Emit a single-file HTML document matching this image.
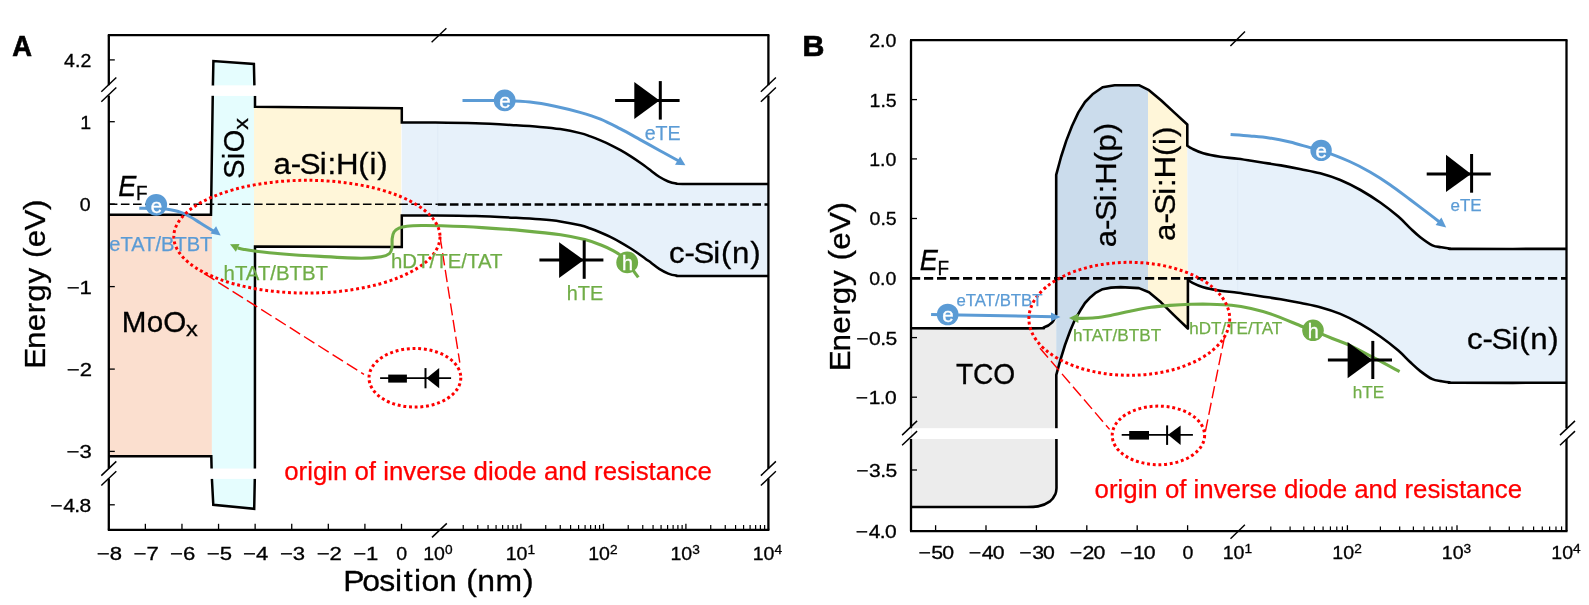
<!DOCTYPE html>
<html lang="en">
<head>
<meta charset="utf-8">
<title>Band diagrams: MoOx/SiOx/a-Si:H(i)/c-Si(n) and TCO/a-Si:H(p)/a-Si:H(i)/c-Si(n)</title>
<style>
html,body{margin:0;padding:0;background:#fff;}
body{width:1589px;height:605px;overflow:hidden;font-family:"Liberation Sans",sans-serif;}
svg{display:block;will-change:transform;}
svg text{font-family:"Liberation Sans",sans-serif;white-space:pre;}
</style>
</head>
<body>
<svg width="1589" height="605" viewBox="0 0 1589 605" font-family='"Liberation Sans", sans-serif'>
<rect width="1589" height="605" fill="#fff"/>
<path d="M108.8 215 L211.9 215 L211.9 456.2 L108.8 456.2 Z" fill="#fbdfcf"/>
<path d="M213.4 61 L253.8 64 L254.4 85.6 L212.9 85.6 Z" fill="#e5fdfe"/>
<path d="M212.7 95.8 L255 95.8 L255 468.7 L211.9 468.7 L211.9 215 Z" fill="#e5fdfe"/>
<path d="M211.8 478.7 L255 478.7 L254.2 508.8 L213.3 504.8 Z" fill="#e5fdfe"/>
<path d="M254 106.8 L401.2 108.4 L401.2 247 L254 246.4 Z" fill="#fff6d9"/>
<path d="M401.8 122.5 C407.38 122.5 423 122.37 435.3 122.5 C447.6 122.63 462.15 122.83 475.6 123.3 C489.05 123.77 505.27 124.7 516 125.3 C526.73 125.9 532.63 126.27 540 126.9 C547.37 127.53 553.48 128.07 560.2 129.1 C566.92 130.13 575.27 131.88 580.3 133.1 C585.33 134.32 587.03 135.18 590.4 136.4 C593.77 137.62 597.18 139 600.5 140.4 C603.82 141.8 606.97 143.17 610.3 144.8 C613.63 146.43 617.08 148.27 620.5 150.2 C623.92 152.13 627.38 154.22 630.8 156.4 C634.22 158.58 637.58 160.88 641 163.3 C644.42 165.72 648.27 168.65 651.3 170.9 C654.33 173.15 656.37 175.03 659.2 176.8 C662.03 178.57 665.43 180.38 668.3 181.5 C671.17 182.62 673.55 183.1 676.4 183.5 C679.25 183.9 670.07 183.83 685.4 183.9 C700.73 183.97 754.57 183.9 768.4 183.9 L768.4 276 C754.57 276 700.73 276.07 685.4 276 C670.07 275.93 679.25 276 676.4 275.6 C673.55 275.2 671.17 274.72 668.3 273.6 C665.43 272.48 662.03 270.67 659.2 268.9 C656.37 267.13 654.33 265.25 651.3 263 C648.27 260.75 644.42 257.82 641 255.4 C637.58 252.98 634.22 250.68 630.8 248.5 C627.38 246.32 623.92 244.23 620.5 242.3 C617.08 240.37 613.63 238.53 610.3 236.9 C606.97 235.27 603.82 233.89 600.5 232.5 C597.18 231.11 593.77 229.75 590.4 228.55 C587.03 227.35 585.33 226.49 580.3 225.3 C575.27 224.11 566.92 222.4 560.2 221.4 C553.48 220.4 547.37 219.9 540 219.3 C532.63 218.7 526.73 218.37 516 217.82 C505.27 217.27 489.05 216.42 475.6 216.02 C462.15 215.62 447.6 215.51 435.3 215.42 C423 215.34 407.38 215.49 401.8 215.5 Z" fill="#e7f1fa"/>
<line x1="437.8" y1="123" x2="437.8" y2="215" stroke="#dfeaf6" stroke-width="1"/>
<path d="M108.8 214.8 L211 214.8 L212.9 85.6" fill="none" stroke="#000" stroke-width="2.5" stroke-linejoin="miter"/>
<path d="M212.9 85.6 L213.4 61 L253.9 64 L254.4 85.6" fill="none" stroke="#000" stroke-width="2.5" stroke-linejoin="miter"/>
<path d="M255 95.8 L255 106.8 L401.8 108.3 L401.8 122.5 C407.38 122.5 423 122.37 435.3 122.5 C447.6 122.63 462.15 122.83 475.6 123.3 C489.05 123.77 505.27 124.7 516 125.3 C526.73 125.9 532.63 126.27 540 126.9 C547.37 127.53 553.48 128.07 560.2 129.1 C566.92 130.13 575.27 131.88 580.3 133.1 C585.33 134.32 587.03 135.18 590.4 136.4 C593.77 137.62 597.18 139 600.5 140.4 C603.82 141.8 606.97 143.17 610.3 144.8 C613.63 146.43 617.08 148.27 620.5 150.2 C623.92 152.13 627.38 154.22 630.8 156.4 C634.22 158.58 637.58 160.88 641 163.3 C644.42 165.72 648.27 168.65 651.3 170.9 C654.33 173.15 656.37 175.03 659.2 176.8 C662.03 178.57 665.43 180.38 668.3 181.5 C671.17 182.62 673.55 183.1 676.4 183.5 C679.25 183.9 670.07 183.83 685.4 183.9 C700.73 183.97 754.57 183.9 768.4 183.9" fill="none" stroke="#000" stroke-width="2.5" stroke-linejoin="miter"/>
<path d="M108.8 456.2 L211.3 456.2 L211.6 468.7" fill="none" stroke="#000" stroke-width="2.5" stroke-linejoin="miter"/>
<path d="M211.9 478.7 L213.3 504.8 L254.2 508.8 L254.8 478.7" fill="none" stroke="#000" stroke-width="2.5" stroke-linejoin="miter"/>
<path d="M254.9 468.7 L255 246.6 L401.8 247 L401.8 215.5 C407.38 215.49 423 215.34 435.3 215.42 C447.6 215.51 462.15 215.62 475.6 216.02 C489.05 216.42 505.27 217.27 516 217.82 C526.73 218.37 532.63 218.7 540 219.3 C547.37 219.9 553.48 220.4 560.2 221.4 C566.92 222.4 575.27 224.11 580.3 225.3 C585.33 226.49 587.03 227.35 590.4 228.55 C593.77 229.75 597.18 231.11 600.5 232.5 C603.82 233.89 606.97 235.27 610.3 236.9 C613.63 238.53 617.08 240.37 620.5 242.3 C623.92 244.23 627.38 246.32 630.8 248.5 C634.22 250.68 637.58 252.98 641 255.4 C644.42 257.82 648.27 260.75 651.3 263 C654.33 265.25 656.37 267.13 659.2 268.9 C662.03 270.67 665.43 272.48 668.3 273.6 C671.17 274.72 673.55 275.2 676.4 275.6 C679.25 276 670.07 275.93 685.4 276 C700.73 276.07 754.57 276 768.4 276" fill="none" stroke="#000" stroke-width="2.5" stroke-linejoin="miter"/>
<rect x="205" y="85.6" width="56" height="10.2" fill="#fff"/>
<rect x="205" y="468.7" width="56" height="10" fill="#fff"/>
<line x1="108.8" y1="204.3" x2="437.8" y2="204.3" stroke="#000" stroke-width="1.6" stroke-dasharray="8.6 3.5"/>
<line x1="437.8" y1="204.5" x2="768.4" y2="204.5" stroke="#000" stroke-width="2.6" stroke-dasharray="8.6 3.5"/>
<path d="M627.2 262.3 C626.18 261.2 623.45 257.65 621.1 255.7 C618.75 253.75 616.45 252.38 613.1 250.6 C609.75 248.82 605.72 246.83 601 245 C596.28 243.17 591.53 241.32 584.8 239.6 C578.07 237.88 571.02 236.2 560.6 234.7 C550.18 233.2 535.42 231.78 522.3 230.6 C509.18 229.42 495.35 228.4 481.9 227.6 C468.45 226.8 451.67 226.15 441.6 225.8 C431.53 225.45 427.27 225.43 421.5 225.5 C415.73 225.57 410.75 225.75 407 226.2 C403.25 226.65 401.17 227.23 399 228.2 C396.83 229.17 395.13 230.28 394 232 C392.87 233.72 392.55 235.83 392.2 238.5 C391.85 241.17 392.37 245.48 391.9 248 C391.43 250.52 391.2 252.15 389.4 253.6 C387.6 255.05 385.83 255.93 381.1 256.7 C376.37 257.47 371.08 258.25 361 258.2 C350.92 258.15 334.05 257.15 320.6 256.4 C307.15 255.65 291.32 254.6 280.3 253.7 C269.28 252.8 260.55 251.72 254.5 251 C248.45 250.28 246.82 249.92 244 249.4 C241.18 248.88 238.67 248.15 237.6 247.9" fill="none" stroke="#70ad47" stroke-width="3.1" />
<path d="M230 244.3 L239.5 244.0 L235.9 251.7 Z" fill="#70ad47"/>
<path d="M627.2 262.3 L638.3 277.3" fill="none" stroke="#70ad47" stroke-width="3.1" />
<circle cx="627.2" cy="262.4" r="10.9" fill="#70ad47"/>
<text x="627.4" y="270.1" font-size="19.8" text-anchor="middle" fill="#fff" stroke="#fff" stroke-width="0.3">h</text>
<path d="M139.3 208.2 C142.08 208.23 151.55 208.25 156 208.4 C160.45 208.55 161.97 208.48 166 209.1 C170.03 209.72 176.17 210.82 180.2 212.1 C184.23 213.38 186.85 214.98 190.2 216.8 C193.55 218.62 196.93 220.93 200.3 223 C203.67 225.07 207.87 227.65 210.4 229.2 C212.93 230.75 214.65 231.78 215.5 232.3" fill="none" stroke="#5b9bd5" stroke-width="3" />
<path d="M220.7 235.4 L210.5 233.5 L216.1 226.2 Z" fill="#5b9bd5"/>
<circle cx="156.2" cy="204.8" r="10.9" fill="#5b9bd5"/>
<text x="156.4" y="212.6" font-size="20.5" text-anchor="middle" fill="#fff" stroke="#fff" stroke-width="0.4">e</text>
<path d="M462.5 100.6 C469.42 100.6 492.75 100.37 504 100.6 C515.25 100.83 521.5 101.07 530 102 C538.5 102.93 546.67 104.47 555 106.2 C563.33 107.93 572.42 110.23 580 112.4 C587.58 114.57 593.83 116.48 600.5 119.2 C607.17 121.92 613.42 125.3 620 128.7 C626.58 132.1 633.25 135.88 640 139.6 C646.75 143.32 654.42 147.63 660.5 151 C666.58 154.37 673.17 157.93 676.5 159.8 C679.83 161.67 679.83 161.8 680.5 162.2" fill="none" stroke="#5b9bd5" stroke-width="3" />
<path d="M685.4 165.3 L675 164.8 L680.1 156.6 Z" fill="#5b9bd5"/>
<circle cx="504.7" cy="100.4" r="10.9" fill="#5b9bd5"/>
<text x="504.9" y="108.2" font-size="20.5" text-anchor="middle" fill="#fff" stroke="#fff" stroke-width="0.4">e</text>
<line x1="615.1" y1="100.5" x2="679.6" y2="100.5" stroke="#000" stroke-width="3"/>
<path d="M634.3 82.1 L659.5 100.5 L634.3 118.9 Z" fill="#000"/>
<line x1="660.3" y1="81.1" x2="660.3" y2="119.6" stroke="#000" stroke-width="3"/>
<line x1="539.4" y1="260" x2="603.4" y2="260" stroke="#000" stroke-width="3"/>
<path d="M559.1 242.2 L583.8 260 L559.1 278 Z" fill="#000"/>
<line x1="584.2" y1="240.4" x2="584.2" y2="278.8" stroke="#000" stroke-width="3"/>
<ellipse cx="306.9" cy="236.7" rx="133.1" ry="56.4" fill="none" stroke="#ff0000" stroke-width="3" stroke-dasharray="2.9 2.8"/>
<ellipse cx="414.9" cy="377.8" rx="45.9" ry="29.3" fill="none" stroke="#ff0000" stroke-width="3" stroke-dasharray="2.9 2.8"/>
<line x1="204" y1="273.3" x2="364" y2="374.4" stroke="#ff0000" stroke-width="1.4" stroke-dasharray="12.3 4.6"/>
<line x1="440" y1="236.5" x2="459.8" y2="362.7" stroke="#ff0000" stroke-width="1.4" stroke-dasharray="12.3 4.6"/>
<line x1="380.1" y1="378.2" x2="451.1" y2="378.2" stroke="#000" stroke-width="1.7"/>
<rect x="388.2" y="374.6" width="18.7" height="8" fill="#000"/>
<line x1="425.5" y1="368.1" x2="425.5" y2="388.3" stroke="#000" stroke-width="2"/>
<path d="M426.5 378.2 L439.2 368.1 L439.2 388.3 Z" fill="#000"/>
<line x1="107.8" y1="35.2" x2="769.4" y2="35.2" stroke="#000" stroke-width="2.3"/>
<line x1="107.8" y1="529.8" x2="769.4" y2="529.8" stroke="#000" stroke-width="2.3"/>
<line x1="108.8" y1="35.2" x2="108.8" y2="85.2" stroke="#000" stroke-width="2.3"/>
<line x1="108.8" y1="95.5" x2="108.8" y2="468.6" stroke="#000" stroke-width="2.3"/>
<line x1="108.8" y1="478.6" x2="108.8" y2="529.8" stroke="#000" stroke-width="2.3"/>
<line x1="768.4" y1="35.2" x2="768.4" y2="85.2" stroke="#000" stroke-width="2.3"/>
<line x1="768.4" y1="95.5" x2="768.4" y2="468.6" stroke="#000" stroke-width="2.3"/>
<line x1="768.4" y1="478.6" x2="768.4" y2="529.8" stroke="#000" stroke-width="2.3"/>
<line x1="101.3" y1="91.7" x2="116.3" y2="77.5" stroke="#000" stroke-width="1.45"/>
<line x1="101.3" y1="101.7" x2="116.3" y2="87.5" stroke="#000" stroke-width="1.45"/>
<line x1="101.3" y1="475.6" x2="116.3" y2="461.4" stroke="#000" stroke-width="1.45"/>
<line x1="101.3" y1="485.5" x2="116.3" y2="471.3" stroke="#000" stroke-width="1.45"/>
<line x1="760.9" y1="91.7" x2="775.9" y2="77.5" stroke="#000" stroke-width="1.45"/>
<line x1="760.9" y1="101.7" x2="775.9" y2="87.5" stroke="#000" stroke-width="1.45"/>
<line x1="760.9" y1="475.6" x2="775.9" y2="461.4" stroke="#000" stroke-width="1.45"/>
<line x1="760.9" y1="485.5" x2="775.9" y2="471.3" stroke="#000" stroke-width="1.45"/>
<line x1="431.6" y1="42.2" x2="446.4" y2="28.2" stroke="#000" stroke-width="1.45"/>
<line x1="432" y1="537.4" x2="446.8" y2="523.4" stroke="#000" stroke-width="1.45"/>
<line x1="108.8" y1="59.9" x2="114.8" y2="59.9" stroke="#000" stroke-width="1.3"/>
<text transform="translate(64.12 66.8) scale(1.0793 1)" x="-0 10.08 15.12" y="0" font-size="18.13" fill="#000" stroke="#000" stroke-width="0.3">4.2</text>
<line x1="108.8" y1="121.7" x2="114.8" y2="121.7" stroke="#000" stroke-width="1.3"/>
<text transform="translate(80.3 128.6) scale(1.0792 1)" x="0" y="0" font-size="18.13" fill="#000" stroke="#000" stroke-width="0.3">1</text>
<line x1="108.8" y1="204.1" x2="114.8" y2="204.1" stroke="#000" stroke-width="1.3"/>
<text transform="translate(79.86 211) scale(1.0792 1)" x="0" y="0" font-size="18.13" fill="#000" stroke="#000" stroke-width="0.3">0</text>
<line x1="108.8" y1="286.6" x2="114.8" y2="286.6" stroke="#000" stroke-width="1.3"/>
<text transform="translate(65.97 293.5) scale(1.2197 1)" x="0.58 11.17" y="0" font-size="18.13" fill="#000" stroke="#000" stroke-width="0.3">−1</text>
<line x1="108.8" y1="369.1" x2="114.8" y2="369.1" stroke="#000" stroke-width="1.3"/>
<text transform="translate(66.1 376) scale(1.2197 1)" x="0.58 11.17" y="0" font-size="18.13" fill="#000" stroke="#000" stroke-width="0.3">−2</text>
<line x1="108.8" y1="451.4" x2="114.8" y2="451.4" stroke="#000" stroke-width="1.3"/>
<text transform="translate(65.76 458.3) scale(1.2197 1)" x="0.58 11.17" y="0" font-size="18.13" fill="#000" stroke="#000" stroke-width="0.3">−3</text>
<line x1="108.8" y1="504.8" x2="114.8" y2="504.8" stroke="#000" stroke-width="1.3"/>
<text transform="translate(49.25 511.7) scale(1.1604 1)" x="0.88 11.99 21.55 26.05" y="0" font-size="18.13" fill="#000" stroke="#000" stroke-width="0.3">−4.8</text>
<text transform="translate(96.15 559.7) scale(1.2197 1)" x="0.58 11.17" y="0" font-size="18.13" fill="#000" stroke="#000" stroke-width="0.3">−8</text>
<line x1="145.37" y1="529.8" x2="145.37" y2="523.8" stroke="#000" stroke-width="1.3"/>
<text transform="translate(132.89 559.7) scale(1.2197 1)" x="0.58 11.17" y="0" font-size="18.13" fill="#000" stroke="#000" stroke-width="0.3">−7</text>
<line x1="181.96" y1="529.8" x2="181.96" y2="523.8" stroke="#000" stroke-width="1.3"/>
<text transform="translate(169.29 559.7) scale(1.2197 1)" x="0.58 11.17" y="0" font-size="18.13" fill="#000" stroke="#000" stroke-width="0.3">−6</text>
<line x1="218.55" y1="529.8" x2="218.55" y2="523.8" stroke="#000" stroke-width="1.3"/>
<text transform="translate(206.09 559.7) scale(1.2197 1)" x="0.58 11.17" y="0" font-size="18.13" fill="#000" stroke="#000" stroke-width="0.3">−5</text>
<line x1="255.14" y1="529.8" x2="255.14" y2="523.8" stroke="#000" stroke-width="1.3"/>
<text transform="translate(242.41 559.7) scale(1.2197 1)" x="0.58 11.17" y="0" font-size="18.13" fill="#000" stroke="#000" stroke-width="0.3">−4</text>
<line x1="291.73" y1="529.8" x2="291.73" y2="523.8" stroke="#000" stroke-width="1.3"/>
<text transform="translate(279.21 559.7) scale(1.2197 1)" x="0.58 11.17" y="0" font-size="18.13" fill="#000" stroke="#000" stroke-width="0.3">−3</text>
<line x1="328.32" y1="529.8" x2="328.32" y2="523.8" stroke="#000" stroke-width="1.3"/>
<text transform="translate(315.97 559.7) scale(1.2197 1)" x="0.58 11.17" y="0" font-size="18.13" fill="#000" stroke="#000" stroke-width="0.3">−2</text>
<line x1="364.91" y1="529.8" x2="364.91" y2="523.8" stroke="#000" stroke-width="1.3"/>
<text transform="translate(352.49 559.7) scale(1.2197 1)" x="0.58 11.17" y="0" font-size="18.13" fill="#000" stroke="#000" stroke-width="0.3">−1</text>
<line x1="401.5" y1="529.8" x2="401.5" y2="523.8" stroke="#000" stroke-width="1.3"/>
<text transform="translate(396.36 559.7) scale(1.0792 1)" x="0" y="0" font-size="18.13" fill="#000" stroke="#000" stroke-width="0.3">0</text>
<line x1="463.23" y1="529.8" x2="463.23" y2="525" stroke="#000" stroke-width="1.2"/>
<line x1="477.76" y1="529.8" x2="477.76" y2="525" stroke="#000" stroke-width="1.2"/>
<line x1="488.07" y1="529.8" x2="488.07" y2="525" stroke="#000" stroke-width="1.2"/>
<line x1="496.07" y1="529.8" x2="496.07" y2="525" stroke="#000" stroke-width="1.2"/>
<line x1="502.6" y1="529.8" x2="502.6" y2="525" stroke="#000" stroke-width="1.2"/>
<line x1="508.12" y1="529.8" x2="508.12" y2="525" stroke="#000" stroke-width="1.2"/>
<line x1="512.9" y1="529.8" x2="512.9" y2="525" stroke="#000" stroke-width="1.2"/>
<line x1="517.13" y1="529.8" x2="517.13" y2="525" stroke="#000" stroke-width="1.2"/>
<line x1="520.9" y1="529.8" x2="520.9" y2="523.8" stroke="#000" stroke-width="1.3"/>
<line x1="545.73" y1="529.8" x2="545.73" y2="525" stroke="#000" stroke-width="1.2"/>
<line x1="560.26" y1="529.8" x2="560.26" y2="525" stroke="#000" stroke-width="1.2"/>
<line x1="570.57" y1="529.8" x2="570.57" y2="525" stroke="#000" stroke-width="1.2"/>
<line x1="578.57" y1="529.8" x2="578.57" y2="525" stroke="#000" stroke-width="1.2"/>
<line x1="585.1" y1="529.8" x2="585.1" y2="525" stroke="#000" stroke-width="1.2"/>
<line x1="590.62" y1="529.8" x2="590.62" y2="525" stroke="#000" stroke-width="1.2"/>
<line x1="595.4" y1="529.8" x2="595.4" y2="525" stroke="#000" stroke-width="1.2"/>
<line x1="599.63" y1="529.8" x2="599.63" y2="525" stroke="#000" stroke-width="1.2"/>
<line x1="603.4" y1="529.8" x2="603.4" y2="523.8" stroke="#000" stroke-width="1.3"/>
<line x1="628.23" y1="529.8" x2="628.23" y2="525" stroke="#000" stroke-width="1.2"/>
<line x1="642.76" y1="529.8" x2="642.76" y2="525" stroke="#000" stroke-width="1.2"/>
<line x1="653.07" y1="529.8" x2="653.07" y2="525" stroke="#000" stroke-width="1.2"/>
<line x1="661.07" y1="529.8" x2="661.07" y2="525" stroke="#000" stroke-width="1.2"/>
<line x1="667.6" y1="529.8" x2="667.6" y2="525" stroke="#000" stroke-width="1.2"/>
<line x1="673.12" y1="529.8" x2="673.12" y2="525" stroke="#000" stroke-width="1.2"/>
<line x1="677.9" y1="529.8" x2="677.9" y2="525" stroke="#000" stroke-width="1.2"/>
<line x1="682.13" y1="529.8" x2="682.13" y2="525" stroke="#000" stroke-width="1.2"/>
<line x1="685.9" y1="529.8" x2="685.9" y2="523.8" stroke="#000" stroke-width="1.3"/>
<line x1="710.73" y1="529.8" x2="710.73" y2="525" stroke="#000" stroke-width="1.2"/>
<line x1="725.26" y1="529.8" x2="725.26" y2="525" stroke="#000" stroke-width="1.2"/>
<line x1="735.57" y1="529.8" x2="735.57" y2="525" stroke="#000" stroke-width="1.2"/>
<line x1="743.57" y1="529.8" x2="743.57" y2="525" stroke="#000" stroke-width="1.2"/>
<line x1="750.1" y1="529.8" x2="750.1" y2="525" stroke="#000" stroke-width="1.2"/>
<line x1="755.62" y1="529.8" x2="755.62" y2="525" stroke="#000" stroke-width="1.2"/>
<line x1="760.4" y1="529.8" x2="760.4" y2="525" stroke="#000" stroke-width="1.2"/>
<line x1="764.63" y1="529.8" x2="764.63" y2="525" stroke="#000" stroke-width="1.2"/>
<text transform="translate(423.17 559.7) scale(1.0792 1)" x="0 10.08" y="0" font-size="18.13" fill="#000" stroke="#000" stroke-width="0.3">10</text>
<text transform="translate(444.93 553.5) scale(1.0792 1)" x="0" y="0" font-size="12.69" fill="#000" stroke="#000" stroke-width="0.3">0</text>
<text transform="translate(505.73 559.7) scale(1.0792 1)" x="0 10.08" y="0" font-size="18.13" fill="#000" stroke="#000" stroke-width="0.3">10</text>
<text transform="translate(527.48 553.5) scale(1.0792 1)" x="0" y="0" font-size="12.69" fill="#000" stroke="#000" stroke-width="0.3">1</text>
<text transform="translate(588.17 559.7) scale(1.0792 1)" x="0 10.08" y="0" font-size="18.13" fill="#000" stroke="#000" stroke-width="0.3">10</text>
<text transform="translate(609.93 553.5) scale(1.0792 1)" x="0" y="0" font-size="12.69" fill="#000" stroke="#000" stroke-width="0.3">2</text>
<text transform="translate(670.45 559.7) scale(1.0792 1)" x="0 10.08" y="0" font-size="18.13" fill="#000" stroke="#000" stroke-width="0.3">10</text>
<text transform="translate(692.21 553.5) scale(1.0792 1)" x="0" y="0" font-size="12.69" fill="#000" stroke="#000" stroke-width="0.3">3</text>
<text transform="translate(752.71 559.7) scale(1.0792 1)" x="0 10.08" y="0" font-size="18.13" fill="#000" stroke="#000" stroke-width="0.3">10</text>
<text transform="translate(774.47 553.5) scale(1.0792 1)" x="0" y="0" font-size="12.69" fill="#000" stroke="#000" stroke-width="0.3">4</text>
<text transform="translate(345.41 591) scale(1.0618 1)" x="-1.98 15.94 31.93 46.8 54.92 64.72 71.59 88.25 105.16 113.8 124.13 141.47 167.24" y="0" font-size="30.1" fill="#000" stroke="#000" stroke-width="0.3">Position (nm)</text>
<g transform="translate(44.8 367.18) rotate(-90)"><text transform="translate(0 0) scale(1.0442 1)" x="-1.45 17.43 34.42 51.73 62.6 80.12 95.84 104.63 114.95 130.95 150.58" y="0" font-size="30.1" fill="#000" stroke="#000" stroke-width="0.3">Energy (eV)</text></g>
<text transform="translate(118.21 196.2) scale(0.9000 1)" x="-0.07" y="0" font-size="30.1" fill="#000" stroke="#000" stroke-width="0.3" font-style="italic">E</text>
<text transform="translate(136.16 200.3) scale(0.9000 1)" x="-0.08" y="0" font-size="21.07" fill="#000" stroke="#000" stroke-width="0.3">F</text>
<g transform="translate(243.6 178.07) rotate(-90)">
<text transform="translate(0 0) scale(0.9619 1)" x="-0.67 19.5 26.86" y="0" font-size="30.1" fill="#000" stroke="#000" stroke-width="0.3">SiO</text>
<text transform="translate(48.27 4.1) scale(1.1166 1)" x="0" y="0" font-size="21.07" fill="#000" stroke="#000" stroke-width="0.3">x</text>
</g>
<text transform="translate(121.81 332.2) scale(0.9846 1)" x="-0.1 25.34 42.18" y="0" font-size="30.1" fill="#000" stroke="#000" stroke-width="0.3">MoO</text>
<text transform="translate(186.05 336.3) scale(1.1166 1)" x="0" y="0" font-size="21.07" fill="#000" stroke="#000" stroke-width="0.3">x</text>
<text transform="translate(273.49 174) scale(1.0377 1)" x="0.01 16.7 25.29 44.47 52.05 60.26 81.75 92.55 100.03" y="0" font-size="30.1" fill="#000" stroke="#000" stroke-width="0.3">a-Si:H(i)</text>
<text transform="translate(668.93 262.7) scale(1.0373 1)" x="0 14.98 23.58 42.77 50.25 60.91 78.28" y="0" font-size="30.1" fill="#000" stroke="#000" stroke-width="0.3">c-Si(n)</text>
<text x="12.24" y="56" font-size="30.2" textLength="19.72" lengthAdjust="spacingAndGlyphs" fill="#000" stroke="#000" stroke-width="0.7" font-weight="bold">A</text>
<text x="109.27" y="250.9" font-size="19.5" textLength="103.08" lengthAdjust="spacingAndGlyphs" fill="#5b9bd5" stroke="#5b9bd5" stroke-width="0.25">eTAT/BTBT</text>
<text x="223.63" y="279.8" font-size="19.5" textLength="104.43" lengthAdjust="spacingAndGlyphs" fill="#70ad47" stroke="#70ad47" stroke-width="0.25">hTAT/BTBT</text>
<text x="391.02" y="268.2" font-size="19.5" textLength="111.43" lengthAdjust="spacingAndGlyphs" fill="#70ad47" stroke="#70ad47" stroke-width="0.25">hDT/TE/TAT</text>
<text x="644.67" y="140.1" font-size="19.5" textLength="35.98" lengthAdjust="spacingAndGlyphs" fill="#5b9bd5" stroke="#5b9bd5" stroke-width="0.25">eTE</text>
<text x="566.83" y="300.4" font-size="19.5" textLength="36.32" lengthAdjust="spacingAndGlyphs" fill="#70ad47" stroke="#70ad47" stroke-width="0.25">hTE</text>
<text x="284.22" y="479.7" font-size="25.8" textLength="427.53" lengthAdjust="spacingAndGlyphs" fill="#ff0000" stroke="#ff0000" stroke-width="0.25">origin of inverse diode and resistance</text>
<path d="M911 328.2 L1030 328.4 L1044.1 327.3 L1052.2 322.4 L1056.2 314.4 L1056.2 488 L1056.5 488 L1055.4 494 L1050.1 501.3 L1038 506.4 L1011.8 507 L911 507 Z" fill="#ececec"/>
<path d="M1056.2 174.9 L1061 157 L1066.3 140.6 L1072 126 L1078.4 112.4 L1085 102 L1092.5 94.3 L1102.6 87.2 L1114.7 85.2 L1138.9 85.2 L1148 89.7 L1148 291.79 L1138.9 288.1 L1120.7 287.1 L1111 287.6 L1102.6 289.2 L1096 292.6 L1090.5 297.2 L1085 303 L1080.4 310.3 L1075 319.5 L1070.3 330.5 L1065 345 L1060.2 360.7 L1056.2 374.8 Z" fill="#cbdcec"/>
<path d="M1148 89.7 L1149 90.2 L1161 100.3 L1175.2 113.4 L1187.3 124.5 L1187.9 328.5 L1175.2 316.4 L1161 302.3 L1149 292.2 L1148 291.79 Z" fill="#fff6d9"/>
<path d="M1187.3 145.7 C1188.1 146.2 1189.45 147.43 1192.1 148.7 C1194.75 149.97 1198.5 151.95 1203.2 153.3 C1207.9 154.65 1214.5 155.88 1220.3 156.8 C1226.1 157.72 1231.28 157.88 1238 158.8 C1244.72 159.72 1253.47 161.2 1260.6 162.3 C1267.73 163.4 1274.07 164.25 1280.8 165.4 C1287.53 166.55 1294.43 167.88 1301 169.2 C1307.57 170.52 1313.65 171.5 1320.2 173.3 C1326.75 175.1 1333.58 177.22 1340.3 180 C1347.02 182.78 1353.78 186.2 1360.5 190 C1367.22 193.8 1374.3 198.37 1380.6 202.8 C1386.9 207.23 1393.38 212.38 1398.3 216.6 C1403.22 220.82 1406.43 224.67 1410.1 228.1 C1413.77 231.53 1416.58 234.33 1420.3 237.2 C1424.02 240.07 1428.95 243.63 1432.4 245.3 C1435.85 246.97 1438.13 246.67 1441 247.2 C1443.87 247.73 1446.43 248.22 1449.6 248.5 C1452.77 248.78 1440.52 248.83 1460 248.9 C1479.48 248.97 1548.75 248.9 1566.5 248.9 L1566.5 382.8 C1548.75 382.8 1479.48 382.87 1460 382.8 C1440.52 382.73 1452.77 382.68 1449.6 382.4 C1446.43 382.12 1443.87 381.63 1441 381.1 C1438.13 380.57 1435.85 380.87 1432.4 379.2 C1428.95 377.53 1424.02 373.97 1420.3 371.1 C1416.58 368.23 1413.77 365.43 1410.1 362 C1406.43 358.57 1403.22 354.72 1398.3 350.5 C1393.38 346.28 1386.9 341.13 1380.6 336.7 C1374.3 332.27 1367.22 327.7 1360.5 323.9 C1353.78 320.1 1347.02 316.68 1340.3 313.9 C1333.58 311.12 1326.75 309 1320.2 307.2 C1313.65 305.4 1307.57 304.42 1301 303.1 C1294.43 301.78 1287.53 300.45 1280.8 299.3 C1274.07 298.15 1267.73 297.3 1260.6 296.2 C1253.47 295.1 1244.72 293.62 1238 292.7 C1231.28 291.78 1226.1 291.62 1220.3 290.7 C1214.5 289.78 1207.9 288.55 1203.2 287.2 C1198.5 285.85 1194.65 283.87 1192.1 282.6 C1189.55 281.33 1188.6 280.1 1187.9 279.6 Z" fill="#e7f1fa"/>
<line x1="1237.7" y1="160" x2="1237.7" y2="293" stroke="#dfeaf6" stroke-width="1"/>
<path d="M911 328.2 C930.83 328.23 1007.82 328.55 1030 328.4 C1052.18 328.25 1040.4 328.3 1044.1 327.3 C1047.8 326.3 1050.18 324.55 1052.2 322.4 C1054.22 320.25 1055.53 315.73 1056.2 314.4 L1056.2 174.9 L1061 157 L1066.3 140.6 L1072 126 L1078.4 112.4 L1085 102 L1092.5 94.3 L1102.6 87.2 L1114.7 85.2 L1138.9 85.2 L1149 90.2 L1161 100.3 L1175.2 113.4 L1187.3 124.5 L1187.3 145.7 C1188.1 146.2 1189.45 147.43 1192.1 148.7 C1194.75 149.97 1198.5 151.95 1203.2 153.3 C1207.9 154.65 1214.5 155.88 1220.3 156.8 C1226.1 157.72 1231.28 157.88 1238 158.8 C1244.72 159.72 1253.47 161.2 1260.6 162.3 C1267.73 163.4 1274.07 164.25 1280.8 165.4 C1287.53 166.55 1294.43 167.88 1301 169.2 C1307.57 170.52 1313.65 171.5 1320.2 173.3 C1326.75 175.1 1333.58 177.22 1340.3 180 C1347.02 182.78 1353.78 186.2 1360.5 190 C1367.22 193.8 1374.3 198.37 1380.6 202.8 C1386.9 207.23 1393.38 212.38 1398.3 216.6 C1403.22 220.82 1406.43 224.67 1410.1 228.1 C1413.77 231.53 1416.58 234.33 1420.3 237.2 C1424.02 240.07 1428.95 243.63 1432.4 245.3 C1435.85 246.97 1438.13 246.67 1441 247.2 C1443.87 247.73 1446.43 248.22 1449.6 248.5 C1452.77 248.78 1440.52 248.83 1460 248.9 C1479.48 248.97 1548.75 248.9 1566.5 248.9" fill="none" stroke="#000" stroke-width="2.6" stroke-linejoin="round"/>
<path d="M911 507 C927.8 507 990.63 507.1 1011.8 507 C1032.97 506.9 1031.62 507.35 1038 506.4 C1044.38 505.45 1047.2 503.37 1050.1 501.3 C1053 499.23 1054.33 496.22 1055.4 494 C1056.47 491.78 1056.32 489 1056.5 488 L1056.3 374.8 L1060.2 360.7 L1065 345 L1070.3 330.5 L1075 319.5 L1080.4 310.3 L1085 303 L1090.5 297.2 L1096 292.6 L1102.6 289.2 L1111 287.6 L1120.7 287.1 L1138.9 288.1 L1149 292.2 L1161 302.3 L1175.2 316.4 L1187.9 328.5 L1187.9 279.6 C1188.6 280.1 1189.55 281.33 1192.1 282.6 C1194.65 283.87 1198.5 285.85 1203.2 287.2 C1207.9 288.55 1214.5 289.78 1220.3 290.7 C1226.1 291.62 1231.28 291.78 1238 292.7 C1244.72 293.62 1253.47 295.1 1260.6 296.2 C1267.73 297.3 1274.07 298.15 1280.8 299.3 C1287.53 300.45 1294.43 301.78 1301 303.1 C1307.57 304.42 1313.65 305.4 1320.2 307.2 C1326.75 309 1333.58 311.12 1340.3 313.9 C1347.02 316.68 1353.78 320.1 1360.5 323.9 C1367.22 327.7 1374.3 332.27 1380.6 336.7 C1386.9 341.13 1393.38 346.28 1398.3 350.5 C1403.22 354.72 1406.43 358.57 1410.1 362 C1413.77 365.43 1416.58 368.23 1420.3 371.1 C1424.02 373.97 1428.95 377.53 1432.4 379.2 C1435.85 380.87 1438.13 380.57 1441 381.1 C1443.87 381.63 1446.43 382.12 1449.6 382.4 C1452.77 382.68 1440.52 382.73 1460 382.8 C1479.48 382.87 1548.75 382.8 1566.5 382.8" fill="none" stroke="#000" stroke-width="2.6" stroke-linejoin="round"/>
<rect x="912" y="428.2" width="149" height="10.8" fill="#fff"/>
<line x1="911" y1="278.4" x2="1566.5" y2="278.4" stroke="#000" stroke-width="2.6" stroke-dasharray="9.2 3.8"/>
<path d="M1399.6 371.6 C1395.5 369.4 1383.33 362.77 1375 358.4 C1366.67 354.03 1356.7 348.72 1349.6 345.4 C1342.5 342.08 1338.52 340.98 1332.4 338.5 C1326.28 336.02 1317.93 332.5 1312.9 330.5 C1307.87 328.5 1309.03 329.18 1302.2 326.5 C1295.37 323.82 1280.43 317.38 1271.9 314.4 C1263.37 311.42 1257.72 310.12 1251 308.6 C1244.28 307.08 1238.43 306.03 1231.6 305.3 C1224.77 304.57 1216.72 304.37 1210 304.2 C1203.28 304.03 1197.97 304.1 1191.3 304.3 C1184.63 304.5 1176.72 304.9 1170 305.4 C1163.28 305.9 1157.67 306.33 1151 307.3 C1144.33 308.27 1136.73 309.85 1130 311.2 C1123.27 312.55 1116.43 314.3 1110.6 315.4 C1104.77 316.5 1100.03 317.3 1095 317.8 C1089.97 318.3 1084.07 318.33 1080.4 318.4 C1076.73 318.47 1074.23 318.23 1073 318.2" fill="none" stroke="#70ad47" stroke-width="3.1" />
<path d="M1069 318 L1078.4 313.4 L1078.4 323 Z" fill="#70ad47"/>
<circle cx="1313" cy="330.3" r="10.8" fill="#70ad47"/>
<text x="1313.2" y="338.1" font-size="19.8" text-anchor="middle" fill="#fff" stroke="#fff" stroke-width="0.3">h</text>
<path d="M931.1 314.5 L1054 316.7" fill="none" stroke="#5b9bd5" stroke-width="3" />
<path d="M1060.4 316.9 L1051 312.4 L1051 321.2 Z" fill="#5b9bd5"/>
<circle cx="947.7" cy="314.5" r="10.8" fill="#5b9bd5"/>
<text x="947.9" y="322.3" font-size="20.5" text-anchor="middle" fill="#fff" stroke="#fff" stroke-width="0.4">e</text>
<path d="M1230.6 134.6 C1233.83 134.83 1243.6 135.45 1250 136 C1256.4 136.55 1262.33 136.9 1269 137.9 C1275.67 138.9 1283.28 140.42 1290 142 C1296.72 143.58 1304.13 146 1309.3 147.4 C1314.47 148.8 1314.28 148.05 1321 150.4 C1327.72 152.75 1341.43 157.9 1349.6 161.5 C1357.77 165.1 1363.27 168.13 1370 172 C1376.73 175.87 1383.33 180.12 1390 184.7 C1396.67 189.28 1403.28 194.47 1410 199.5 C1416.72 204.53 1425.13 210.95 1430.3 214.9 C1435.47 218.85 1439.22 221.82 1441 223.2" fill="none" stroke="#5b9bd5" stroke-width="3" />
<path d="M1446.2 227.4 L1435.6 225 L1441.4 217.4 Z" fill="#5b9bd5"/>
<circle cx="1321.1" cy="150.4" r="10.7" fill="#5b9bd5"/>
<text x="1321.3" y="158.2" font-size="20.5" text-anchor="middle" fill="#fff" stroke="#fff" stroke-width="0.4">e</text>
<line x1="1426.7" y1="174" x2="1490.8" y2="174" stroke="#000" stroke-width="3"/>
<path d="M1446 154.8 L1471 174 L1446 192.1 Z" fill="#000"/>
<line x1="1471.6" y1="154" x2="1471.6" y2="192.7" stroke="#000" stroke-width="3"/>
<line x1="1327.9" y1="360.1" x2="1392" y2="360.1" stroke="#000" stroke-width="3"/>
<path d="M1347.6 341.9 L1372.4 360.1 L1347.6 378.2 Z" fill="#000"/>
<line x1="1372.8" y1="340.9" x2="1372.8" y2="379" stroke="#000" stroke-width="3"/>
<ellipse cx="1129.3" cy="318.8" rx="100.4" ry="56.5" fill="none" stroke="#ff0000" stroke-width="3" stroke-dasharray="2.9 2.8"/>
<ellipse cx="1158.4" cy="435.4" rx="46.2" ry="29.3" fill="none" stroke="#ff0000" stroke-width="3" stroke-dasharray="2.9 2.8"/>
<line x1="1040" y1="348.2" x2="1109.6" y2="429.4" stroke="#ff0000" stroke-width="1.4" stroke-dasharray="12.3 4.6"/>
<line x1="1224.6" y1="336.5" x2="1205.4" y2="431.4" stroke="#ff0000" stroke-width="1.4" stroke-dasharray="12.3 4.6"/>
<line x1="1121.7" y1="434.8" x2="1192.9" y2="434.8" stroke="#000" stroke-width="1.7"/>
<rect x="1129.2" y="431" width="19.8" height="8.6" fill="#000"/>
<line x1="1167.1" y1="425.4" x2="1167.1" y2="444.9" stroke="#000" stroke-width="2"/>
<path d="M1168.1 434.8 L1180.6 425.4 L1180.6 444.9 Z" fill="#000"/>
<line x1="910" y1="40.2" x2="1567.5" y2="40.2" stroke="#000" stroke-width="2.3"/>
<line x1="910" y1="531.2" x2="1567.5" y2="531.2" stroke="#000" stroke-width="2.3"/>
<line x1="911" y1="40.2" x2="911" y2="428.2" stroke="#000" stroke-width="2.3"/>
<line x1="911" y1="439" x2="911" y2="531.2" stroke="#000" stroke-width="2.3"/>
<line x1="1566.5" y1="40.2" x2="1566.5" y2="428.2" stroke="#000" stroke-width="2.3"/>
<line x1="1566.5" y1="439" x2="1566.5" y2="531.2" stroke="#000" stroke-width="2.3"/>
<line x1="902.1" y1="435.1" x2="917.1" y2="420.9" stroke="#000" stroke-width="1.45"/>
<line x1="902.1" y1="445.3" x2="917.1" y2="431.1" stroke="#000" stroke-width="1.45"/>
<line x1="1560" y1="435.1" x2="1575" y2="420.9" stroke="#000" stroke-width="1.45"/>
<line x1="1560" y1="445.3" x2="1575" y2="431.1" stroke="#000" stroke-width="1.45"/>
<line x1="1230.4" y1="46" x2="1245" y2="31.4" stroke="#000" stroke-width="1.45"/>
<line x1="1230.5" y1="538.8" x2="1244.9" y2="524.8" stroke="#000" stroke-width="1.45"/>
<text transform="translate(869.14 47.1) scale(1.0793 1)" x="-0 10.08 15.12" y="0" font-size="18.13" fill="#000" stroke="#000" stroke-width="0.3">2.0</text>
<line x1="911" y1="99.6" x2="917" y2="99.6" stroke="#000" stroke-width="1.3"/>
<text transform="translate(869.5 106.5) scale(1.0793 1)" x="-0 10.08 15.12" y="0" font-size="18.13" fill="#000" stroke="#000" stroke-width="0.3">1.5</text>
<line x1="911" y1="158.9" x2="917" y2="158.9" stroke="#000" stroke-width="1.3"/>
<text transform="translate(869.14 165.8) scale(1.0793 1)" x="-0 10.08 15.12" y="0" font-size="18.13" fill="#000" stroke="#000" stroke-width="0.3">1.0</text>
<line x1="911" y1="218.5" x2="917" y2="218.5" stroke="#000" stroke-width="1.3"/>
<text transform="translate(869.5 225.4) scale(1.0793 1)" x="-0 10.08 15.12" y="0" font-size="18.13" fill="#000" stroke="#000" stroke-width="0.3">0.5</text>
<line x1="911" y1="278.2" x2="917" y2="278.2" stroke="#000" stroke-width="1.3"/>
<text transform="translate(869.14 285.1) scale(1.0793 1)" x="-0 10.08 15.12" y="0" font-size="18.13" fill="#000" stroke="#000" stroke-width="0.3">0.0</text>
<line x1="911" y1="337.6" x2="917" y2="337.6" stroke="#000" stroke-width="1.3"/>
<text transform="translate(855.17 344.5) scale(1.1604 1)" x="0.88 11.99 21.55 26.05" y="0" font-size="18.13" fill="#000" stroke="#000" stroke-width="0.3">−0.5</text>
<line x1="911" y1="397.2" x2="917" y2="397.2" stroke="#000" stroke-width="1.3"/>
<text transform="translate(854.81 404.1) scale(1.1604 1)" x="0.88 11.99 21.55 26.05" y="0" font-size="18.13" fill="#000" stroke="#000" stroke-width="0.3">−1.0</text>
<line x1="911" y1="470" x2="917" y2="470" stroke="#000" stroke-width="1.3"/>
<text transform="translate(855.17 476.9) scale(1.1604 1)" x="0.88 11.99 21.55 26.05" y="0" font-size="18.13" fill="#000" stroke="#000" stroke-width="0.3">−3.5</text>
<text transform="translate(854.81 537.9) scale(1.1604 1)" x="0.88 11.99 21.55 26.05" y="0" font-size="18.13" fill="#000" stroke="#000" stroke-width="0.3">−4.0</text>
<line x1="935.6" y1="531.2" x2="935.6" y2="525.2" stroke="#000" stroke-width="1.3"/>
<text transform="translate(917.52 559) scale(1.1737 1)" x="0.81 11.8 21.07" y="0" font-size="18.13" fill="#000" stroke="#000" stroke-width="0.3">−50</text>
<line x1="986" y1="531.2" x2="986" y2="525.2" stroke="#000" stroke-width="1.3"/>
<text transform="translate(967.92 559) scale(1.1737 1)" x="0.81 11.8 21.07" y="0" font-size="18.13" fill="#000" stroke="#000" stroke-width="0.3">−40</text>
<line x1="1036.4" y1="531.2" x2="1036.4" y2="525.2" stroke="#000" stroke-width="1.3"/>
<text transform="translate(1018.32 559) scale(1.1737 1)" x="0.81 11.8 21.07" y="0" font-size="18.13" fill="#000" stroke="#000" stroke-width="0.3">−30</text>
<line x1="1086.8" y1="531.2" x2="1086.8" y2="525.2" stroke="#000" stroke-width="1.3"/>
<text transform="translate(1068.72 559) scale(1.1737 1)" x="0.81 11.8 21.07" y="0" font-size="18.13" fill="#000" stroke="#000" stroke-width="0.3">−20</text>
<line x1="1137.2" y1="531.2" x2="1137.2" y2="525.2" stroke="#000" stroke-width="1.3"/>
<text transform="translate(1119.12 559) scale(1.1737 1)" x="0.81 11.8 21.07" y="0" font-size="18.13" fill="#000" stroke="#000" stroke-width="0.3">−10</text>
<line x1="1187.6" y1="531.2" x2="1187.6" y2="525.2" stroke="#000" stroke-width="1.3"/>
<text transform="translate(1182.46 559) scale(1.0792 1)" x="0" y="0" font-size="18.13" fill="#000" stroke="#000" stroke-width="0.3">0</text>
<line x1="1270.79" y1="531.2" x2="1270.79" y2="526.4" stroke="#000" stroke-width="1.2"/>
<line x1="1290.09" y1="531.2" x2="1290.09" y2="526.4" stroke="#000" stroke-width="1.2"/>
<line x1="1303.79" y1="531.2" x2="1303.79" y2="526.4" stroke="#000" stroke-width="1.2"/>
<line x1="1314.41" y1="531.2" x2="1314.41" y2="526.4" stroke="#000" stroke-width="1.2"/>
<line x1="1323.09" y1="531.2" x2="1323.09" y2="526.4" stroke="#000" stroke-width="1.2"/>
<line x1="1330.42" y1="531.2" x2="1330.42" y2="526.4" stroke="#000" stroke-width="1.2"/>
<line x1="1336.78" y1="531.2" x2="1336.78" y2="526.4" stroke="#000" stroke-width="1.2"/>
<line x1="1342.38" y1="531.2" x2="1342.38" y2="526.4" stroke="#000" stroke-width="1.2"/>
<line x1="1347.4" y1="531.2" x2="1347.4" y2="525.2" stroke="#000" stroke-width="1.3"/>
<line x1="1380.39" y1="531.2" x2="1380.39" y2="526.4" stroke="#000" stroke-width="1.2"/>
<line x1="1399.69" y1="531.2" x2="1399.69" y2="526.4" stroke="#000" stroke-width="1.2"/>
<line x1="1413.39" y1="531.2" x2="1413.39" y2="526.4" stroke="#000" stroke-width="1.2"/>
<line x1="1424.01" y1="531.2" x2="1424.01" y2="526.4" stroke="#000" stroke-width="1.2"/>
<line x1="1432.69" y1="531.2" x2="1432.69" y2="526.4" stroke="#000" stroke-width="1.2"/>
<line x1="1440.02" y1="531.2" x2="1440.02" y2="526.4" stroke="#000" stroke-width="1.2"/>
<line x1="1446.38" y1="531.2" x2="1446.38" y2="526.4" stroke="#000" stroke-width="1.2"/>
<line x1="1451.98" y1="531.2" x2="1451.98" y2="526.4" stroke="#000" stroke-width="1.2"/>
<line x1="1457" y1="531.2" x2="1457" y2="525.2" stroke="#000" stroke-width="1.3"/>
<line x1="1489.99" y1="531.2" x2="1489.99" y2="526.4" stroke="#000" stroke-width="1.2"/>
<line x1="1509.29" y1="531.2" x2="1509.29" y2="526.4" stroke="#000" stroke-width="1.2"/>
<line x1="1522.99" y1="531.2" x2="1522.99" y2="526.4" stroke="#000" stroke-width="1.2"/>
<line x1="1533.61" y1="531.2" x2="1533.61" y2="526.4" stroke="#000" stroke-width="1.2"/>
<line x1="1542.29" y1="531.2" x2="1542.29" y2="526.4" stroke="#000" stroke-width="1.2"/>
<line x1="1549.62" y1="531.2" x2="1549.62" y2="526.4" stroke="#000" stroke-width="1.2"/>
<line x1="1555.98" y1="531.2" x2="1555.98" y2="526.4" stroke="#000" stroke-width="1.2"/>
<line x1="1561.58" y1="531.2" x2="1561.58" y2="526.4" stroke="#000" stroke-width="1.2"/>
<text transform="translate(1222.73 559) scale(1.0792 1)" x="0 10.08" y="0" font-size="18.13" fill="#000" stroke="#000" stroke-width="0.3">10</text>
<text transform="translate(1244.48 552.8) scale(1.0792 1)" x="0" y="0" font-size="12.69" fill="#000" stroke="#000" stroke-width="0.3">1</text>
<text transform="translate(1332.37 559) scale(1.0792 1)" x="0 10.08" y="0" font-size="18.13" fill="#000" stroke="#000" stroke-width="0.3">10</text>
<text transform="translate(1354.13 552.8) scale(1.0792 1)" x="0" y="0" font-size="12.69" fill="#000" stroke="#000" stroke-width="0.3">2</text>
<text transform="translate(1441.85 559) scale(1.0792 1)" x="0 10.08" y="0" font-size="18.13" fill="#000" stroke="#000" stroke-width="0.3">10</text>
<text transform="translate(1463.61 552.8) scale(1.0792 1)" x="0" y="0" font-size="12.69" fill="#000" stroke="#000" stroke-width="0.3">3</text>
<text transform="translate(1551.31 559) scale(1.0792 1)" x="0 10.08" y="0" font-size="18.13" fill="#000" stroke="#000" stroke-width="0.3">10</text>
<text transform="translate(1573.07 552.8) scale(1.0792 1)" x="0" y="0" font-size="12.69" fill="#000" stroke="#000" stroke-width="0.3">4</text>
<g transform="translate(849.6 369.68) rotate(-90)"><text transform="translate(0 0) scale(1.0442 1)" x="-1.45 17.43 34.42 51.73 62.6 80.12 95.84 104.63 114.95 130.95 150.58" y="0" font-size="30.1" fill="#000" stroke="#000" stroke-width="0.3">Energy (eV)</text></g>
<text transform="translate(919.71 270.4) scale(0.9000 1)" x="-0.07" y="0" font-size="30.1" fill="#000" stroke="#000" stroke-width="0.3" font-style="italic">E</text>
<text transform="translate(937.66 274.5) scale(0.9000 1)" x="-0.08" y="0" font-size="21.07" fill="#000" stroke="#000" stroke-width="0.3">F</text>
<text transform="translate(955.88 384.2) scale(0.9368 1)" x="0.06 18.23 39.91" y="0" font-size="30.1" fill="#000" stroke="#000" stroke-width="0.3">TCO</text>
<g transform="translate(1116.3 247.31) rotate(-90)"><text transform="translate(0 0) scale(1.0353 1)" x="0.03 16.75 25.38 44.59 52.18 60.43 81.95 92.65 110.07" y="0" font-size="30.1" fill="#000" stroke="#000" stroke-width="0.3">a-Si:H(p)</text></g>
<g transform="translate(1174.8 240.91) rotate(-90)"><text transform="translate(0 0) scale(1.0377 1)" x="0.01 16.7 25.29 44.47 52.05 60.26 81.75 92.55 100.03" y="0" font-size="30.1" fill="#000" stroke="#000" stroke-width="0.3">a-Si:H(i)</text></g>
<text transform="translate(1467.03 349.4) scale(1.0373 1)" x="0 14.98 23.58 42.77 50.25 60.91 78.28" y="0" font-size="30.1" fill="#000" stroke="#000" stroke-width="0.3">c-Si(n)</text>
<text x="802.4" y="56" font-size="30.2" textLength="21.93" lengthAdjust="spacingAndGlyphs" fill="#000" stroke="#000" stroke-width="0.7" font-weight="bold">B</text>
<text x="956.41" y="306" font-size="16.5" textLength="86.17" lengthAdjust="spacingAndGlyphs" fill="#5b9bd5" stroke="#5b9bd5" stroke-width="0.25">eTAT/BTBT</text>
<text x="1073.04" y="340.6" font-size="16.5" textLength="88.14" lengthAdjust="spacingAndGlyphs" fill="#70ad47" stroke="#70ad47" stroke-width="0.25">hTAT/BTBT</text>
<text x="1189.35" y="333.5" font-size="16.5" textLength="92.83" lengthAdjust="spacingAndGlyphs" fill="#70ad47" stroke="#70ad47" stroke-width="0.25">hDT/TE/TAT</text>
<text x="1450.48" y="210.5" font-size="16.5" textLength="31.15" lengthAdjust="spacingAndGlyphs" fill="#5b9bd5" stroke="#5b9bd5" stroke-width="0.25">eTE</text>
<text x="1352.72" y="397.8" font-size="16.5" textLength="31.32" lengthAdjust="spacingAndGlyphs" fill="#70ad47" stroke="#70ad47" stroke-width="0.25">hTE</text>
<text x="1094.62" y="498.4" font-size="25.8" textLength="427.43" lengthAdjust="spacingAndGlyphs" fill="#ff0000" stroke="#ff0000" stroke-width="0.25">origin of inverse diode and resistance</text>
</svg>
</body>
</html>
